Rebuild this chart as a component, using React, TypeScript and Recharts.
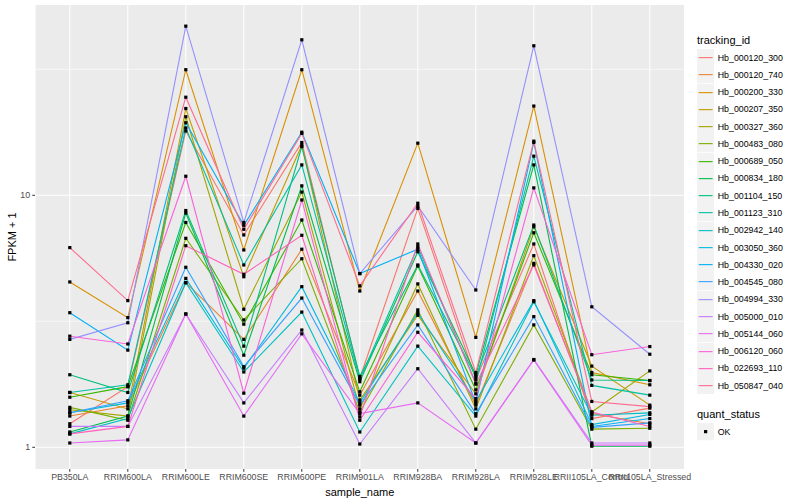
import React from "react";
import { LineChart, Line, XAxis, YAxis, CartesianGrid } from "recharts";

const samples = [
  "PB350LA",
  "RRIM600LA",
  "RRIM600LE",
  "RRIM600SE",
  "RRIM600PE",
  "RRIM901LA",
  "RRIM928BA",
  "RRIM928LA",
  "RRIM928LE",
  "RRII105LA_Control",
  "RRII105LA_Stressed",
];

const trackingIds = [
  "Hb_000120_300",
  "Hb_000120_740",
  "Hb_000200_330",
  "Hb_000207_350",
  "Hb_000327_360",
  "Hb_000483_080",
  "Hb_000689_050",
  "Hb_000834_180",
  "Hb_001104_150",
  "Hb_001123_310",
  "Hb_002942_140",
  "Hb_003050_360",
  "Hb_004330_020",
  "Hb_004545_080",
  "Hb_004994_330",
  "Hb_005000_010",
  "Hb_005144_060",
  "Hb_006120_060",
  "Hb_022693_110",
  "Hb_050847_040",
];

// FPKM + 1 per sample, one array per gene
const hb000120_300 = [1.24, 1.74, 18.0, 6.96, 16.2, 1.88, 8.87, 1.86, 6.41, 1.3, 1.43];
const hb000120_740 = [1.33, 1.46, 4.5, 2.68, 6.11, 1.61, 4.17, 1.47, 5.37, 1.36, 1.24];
const hb000200_330 = [4.53, 3.27, 31.5, 6.07, 31.5, 4.17, 16.1, 2.73, 22.6, 1.98, 1.77];
const hb000207_350 = [1.65, 1.42, 22.1, 4.75, 15.8, 1.54, 3.34, 1.63, 7.5, 2.1, 1.47];
const hb000327_360 = [1.41, 1.33, 20.5, 3.53, 10.3, 1.42, 4.45, 1.42, 5.76, 1.38, 2.01];
const hb000483_080 = [1.44, 1.28, 6.75, 3.2, 5.6, 1.38, 3.51, 1.18, 3.06, 1.18, 1.19];
const hb000689_050 = [1.58, 1.74, 7.8, 3.08, 7.98, 1.66, 5.24, 1.69, 7.1, 1.94, 1.84];
const hb000834_180 = [1.15, 1.33, 8.5, 2.32, 10.9, 1.82, 5.97, 1.94, 13.2, 1.01, 1.01];
const hb001104_150 = [1.94, 1.65, 8.7, 2.52, 15.6, 1.91, 5.29, 1.91, 7.62, 1.85, 1.84];
const hb001123_310 = [1.65, 1.77, 18.5, 5.29, 13.2, 1.86, 6.25, 1.8, 14.3, 1.76, 1.61];
const hb002942_140 = [1.13, 1.3, 4.5, 1.99, 3.44, 1.15, 2.52, 1.33, 3.78, 1.34, 1.37];
const hb003050_360 = [1.37, 1.5, 4.68, 2.06, 4.34, 1.5, 3.42, 1.52, 3.82, 1.23, 1.35];
const hb004330_020 = [3.42, 2.43, 19.4, 7.6, 17.8, 4.89, 6.11, 1.5, 16.2, 1.21, 1.3];
const hb004545_080 = [1.37, 1.53, 5.18, 2.09, 3.91, 1.47, 3.06, 1.36, 3.3, 1.2, 1.25];
const hb004994_330 = [2.68, 3.12, 46.9, 7.8, 41.4, 4.89, 9.07, 4.21, 39.2, 3.61, 2.34];
const hb005000_010 = [1.21, 1.21, 3.38, 1.5, 2.92, 1.03, 2.05, 1.04, 2.23, 1.04, 1.04];
const hb005144_060 = [1.04, 1.07, 3.38, 1.33, 2.82, 1.36, 1.5, 1.04, 2.22, 1.02, 1.02];
const hb006120_060 = [2.76, 2.57, 11.9, 1.64, 9.58, 1.28, 2.86, 1.56, 10.7, 2.33, 2.51];
const hb022693_110 = [1.13, 1.21, 6.31, 4.86, 6.94, 1.32, 6.41, 1.78, 5.29, 1.38, 1.21];
const hb050847_040 = [6.2, 3.82, 24.5, 7.33, 17.6, 4.37, 9.3, 1.98, 16.4, 1.52, 1.45];

const yTicks = [1, 10];
const yMinor = [Math.sqrt(10), Math.pow(10, 1.5)];

const seriesValues = [
  hb000120_300, hb000120_740, hb000200_330, hb000207_350, hb000327_360,
  hb000483_080, hb000689_050, hb000834_180, hb001104_150, hb001123_310,
  hb002942_140, hb003050_360, hb004330_020, hb004545_080, hb004994_330,
  hb005000_010, hb005144_060, hb006120_060, hb022693_110, hb050847_040,
];

// ggplot default hue palette for 20 levels
const colors = [
  "#F8766D", "#EA8331", "#D89000", "#C09B00", "#A3A500",
  "#7CAE00", "#39B600", "#00BB4E", "#00BF7D", "#00C1A3",
  "#00BFC4", "#00BAE0", "#00B0F6", "#35A2FF", "#9590FF",
  "#C77CFF", "#E76BF3", "#FA62DB", "#FF62BC", "#FF6C90",
];

const rows = samples.map((name, i) => {
  const row: any = { name };
  trackingIds.forEach((id, j) => {
    row[id] = seriesValues[j][i];
  });
  return row;
});

const FONT = '"Liberation Sans", Arial, Helvetica, sans-serif';
const tickStyle = { fontSize: 8.8, fill: "#4D4D4D", fontFamily: FONT };

const Dot = (props: any) => {
  const { cx, cy } = props;
  if (cx == null || cy == null) return null;
  return <rect x={cx - 1.6} y={cy - 1.6} width={3.2} height={3.2} fill="#000" />;
};

function LegendKey({ color, label }: any) {
  return (
    <div style={{ display: "flex", alignItems: "center", height: 17.28 }}>
      <svg width={17.28} height={17.28} style={{ display: "block" }}>
        <rect width={17.28} height={17.28} fill="#F2F2F2" />
        <line x1={1.7} x2={15.6} y1={8.64} y2={8.64} stroke={color} strokeWidth={1.1} />
      </svg>
      <span style={{ marginLeft: 3.5, fontSize: 8.8, color: "#000" }}>{label}</span>
    </div>
  );
}

export default function App() {
  return (
    <div
      style={{
        position: "relative",
        width: 800,
        height: 500,
        background: "#fff",
        fontFamily: FONT,
      }}
    >
      <style>{`body{margin:0}`}</style>
      <LineChart
        width={800}
        height={500}
        data={rows}
        margin={{ top: 5, right: 115.4, bottom: 0, left: 0 }}
      >
        <CartesianGrid
          fill="#EBEBEB"
          stroke="#FFFFFF"
          strokeWidth={1.07}
          horizontalValues={yTicks}
        />
        <CartesianGrid
          stroke="#FFFFFF"
          strokeWidth={0.6}
          vertical={false}
          horizontalValues={yMinor}
        />
        <XAxis
          dataKey="name"
          interval={0}
          height={31}
          padding={{ left: 34.8, right: 34.8 }}
          axisLine={false}
          tickLine={{ stroke: "#333333" }}
          tickSize={2.75}
          tickMargin={2.2}
          tick={tickStyle}
          label={{
            value: "sample_name",
            position: "insideBottom",
            offset: 4,
            style: { fontSize: 11, fill: "#000", fontFamily: FONT },
          }}
        />
        <YAxis
          scale="log"
          domain={[0.82, 56.9]}
          allowDataOverflow
          ticks={yTicks}
          width={35}
          axisLine={false}
          tickLine={{ stroke: "#333333" }}
          tickSize={2.75}
          tickMargin={2.2}
          tick={tickStyle}
        />
        {trackingIds.map((id, j) => (
          <Line
            key={id}
            type="linear"
            dataKey={id}
            stroke={colors[j]}
            strokeWidth={1.1}
            dot={false}
            activeDot={false}
            isAnimationActive={false}
          />
        ))}
        {trackingIds.map((id) => (
          <Line
            key={id + "_pts"}
            type="linear"
            dataKey={id}
            stroke="none"
            dot={<Dot />}
            activeDot={false}
            legendType="none"
            isAnimationActive={false}
          />
        ))}
      </LineChart>

      <div
        style={{
          position: "absolute",
          left: 0,
          top: 237,
          width: 24,
          textAlign: "center",
          fontSize: 11,
        }}
      >
        <div style={{ transform: "translate(0,-50%) rotate(-90deg)", whiteSpace: "nowrap", display: "flex", justifyContent: "center" }}>
          FPKM + 1
        </div>
      </div>

      <div style={{ position: "absolute", left: 697, top: 33 }}>
        <div style={{ fontSize: 11, height: 16, lineHeight: "14px" }}>tracking_id</div>
        {trackingIds.map((id, j) => (
          <LegendKey key={id} color={colors[j]} label={id} />
        ))}
        <div style={{ fontSize: 11, height: 16, lineHeight: "14px", marginTop: 13 }}>quant_status</div>
        <div style={{ display: "flex", alignItems: "center", height: 17.28 }}>
          <svg width={17.28} height={17.28} style={{ display: "block" }}>
            <rect width={17.28} height={17.28} fill="#F2F2F2" />
            <rect x={7.04} y={7.04} width={3.2} height={3.2} fill="#000" />
          </svg>
          <span style={{ marginLeft: 3.5, fontSize: 8.8 }}>OK</span>
        </div>
      </div>
    </div>
  );
}
